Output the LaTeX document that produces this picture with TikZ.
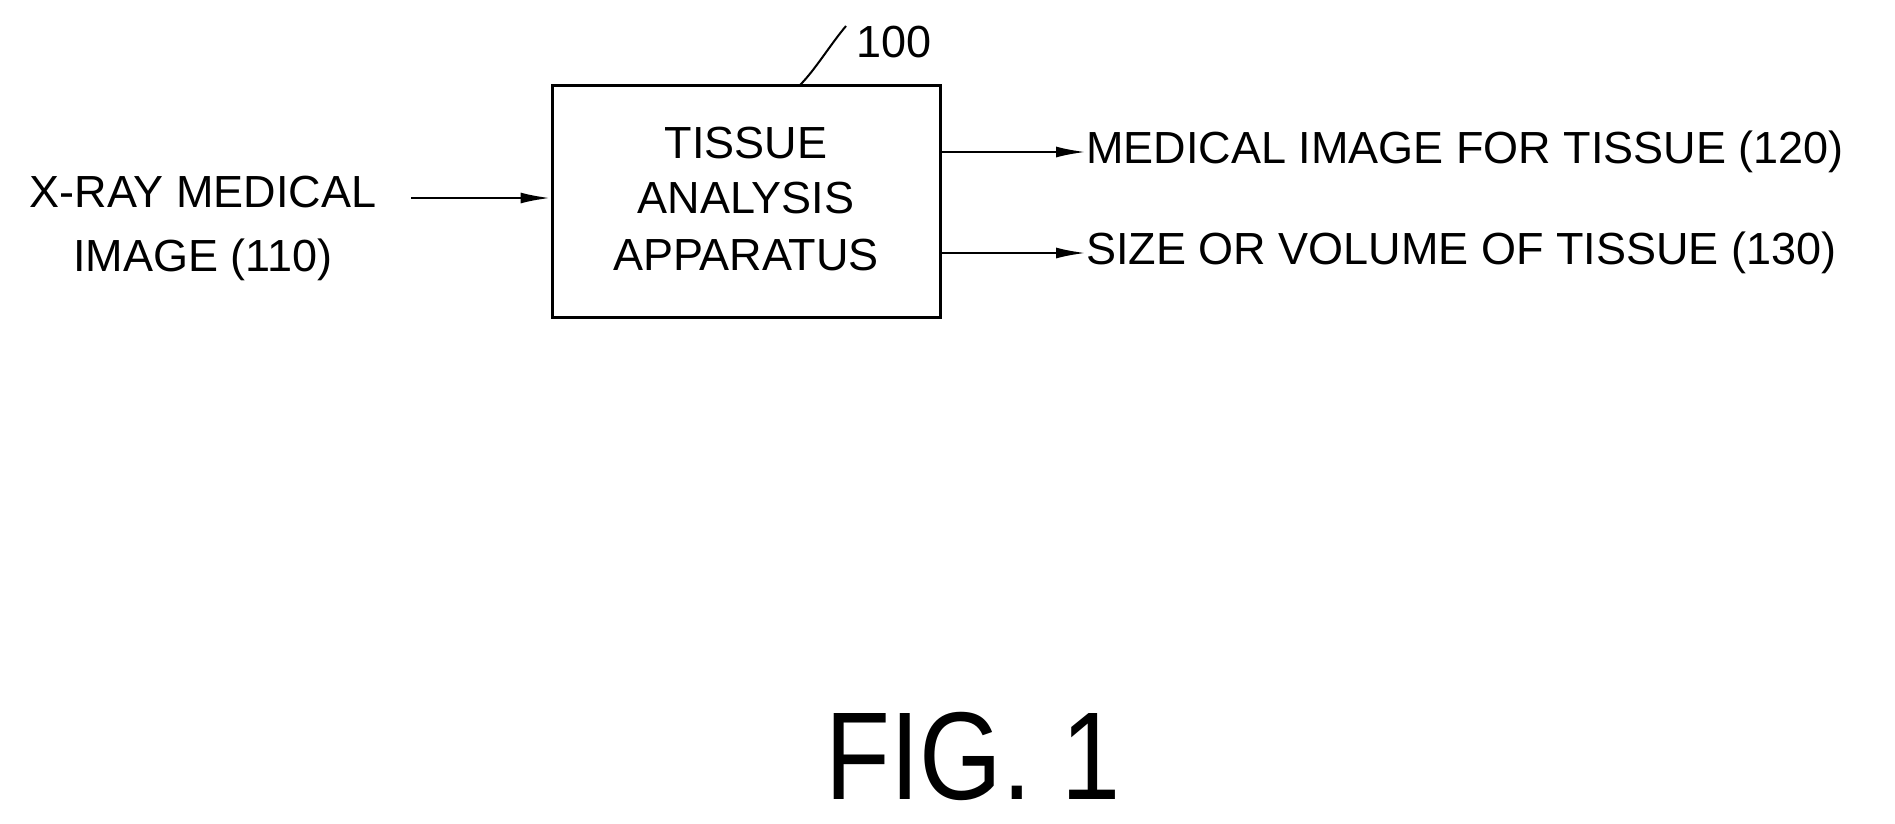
\documentclass[tikz,border=0pt]{standalone}
\usepackage{fontspec}
\setmainfont{Liberation Sans}
\newfontfamily\figfont{Liberation Sans}[FakeStretch=0.85]
\usetikzlibrary{arrows.meta}
\begin{document}
\begin{tikzpicture}[x=1pt,y=-1pt,
  lbl/.style={font=\fontsize{45}{56}\selectfont, inner sep=0pt, align=center},
  arr/.style={line width=2.5pt, -{Latex[length=30pt,width=11pt]}}]
\useasboundingbox (0,0) rectangle (1895,823);
\node[draw, line width=3pt, minimum width=388pt, minimum height=232pt, inner sep=0pt] (box) at (746,201) {};
\node[lbl] (t1) at (746,143) {TISSUE};
\node[lbl] (t2) at (746,198) {ANALYSIS};
\node[lbl] (t3) at (746,255) {APPARATUS};
\node[lbl] (in) at (203,228) {X-RAY MEDICAL\\[8pt]IMAGE (110)};
\node[lbl, anchor=west] (o1) at (1086,152) {MEDICAL IMAGE FOR TISSUE (120)};
\node[lbl, anchor=west] (o2) at (1086,253) {SIZE OR VOLUME OF TISSUE (130)};
\node[lbl, anchor=west] (ref) at (856,42) {100};
\node[font=\figfont\fontsize{125}{140}\selectfont, inner sep=0pt] (fig) at (973,756) {FIG. 1};
\coordinate (inS) at (411,198);
\draw[arr] (inS) -- (box.west |- inS);
\coordinate (a1) at (940,152);
\coordinate (a2) at (940,253);
\draw[arr] (a1) -- (o1.west);
\draw[arr] (a2) -- (o2.west);
\coordinate (l1) at (800,85);
\coordinate (l2) at (846,26);
\draw[line width=2pt] (l1) .. controls (815,70) and (830,45) .. (l2);
\end{tikzpicture}
\end{document}
